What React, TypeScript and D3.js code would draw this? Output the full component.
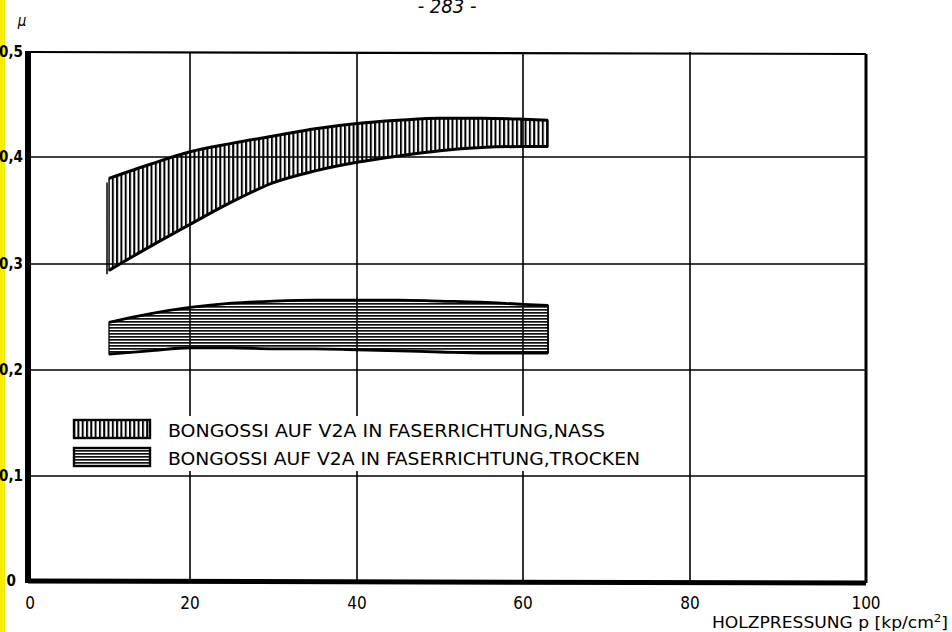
import * as d3 from 'd3';

// Reibwert μ über Holzpressung p, Bongossi auf V2A
const pressure = [10, 15, 20, 25, 30, 35, 40, 45, 50, 55, 60, 63];
const nassUpper = [0.38, 0.393, 0.405, 0.413, 0.42, 0.427, 0.432, 0.435, 0.437, 0.437, 0.436, 0.435];
const nassLower = [0.294, 0.316, 0.337, 0.358, 0.376, 0.387, 0.395, 0.401, 0.406, 0.409, 0.41, 0.41];
const trockenUpper = [0.245, 0.253, 0.259, 0.263, 0.265, 0.266, 0.266, 0.266, 0.265, 0.264, 0.262, 0.261];
const trockenLower = [0.215, 0.218, 0.221, 0.221, 0.22, 0.22, 0.219, 0.218, 0.217, 0.216, 0.216, 0.216];

const xTicks = [0, 20, 40, 60, 80, 100];
const yTicks = [0, 0.1, 0.2, 0.3, 0.4, 0.5];
const yTickLabels = ['0', '0,1', '0,2', '0,3', '0,4', '0,5'];
const legendLabels = [
  'BONGOSSI AUF V2A IN FASERRICHTUNG,NASS',
  'BONGOSSI AUF V2A IN FASERRICHTUNG,TROCKEN',
];

const font = "'DejaVu Sans Condensed', 'Liberation Sans Narrow', 'DejaVu Sans', sans-serif";

export default function App() {
  const width = 952;
  const height = 632;

  // scanned sheet: the grid is not perfectly even, so use a polylinear scale
  const x = d3.scaleLinear().domain(xTicks).range([28, 190, 357, 523, 690, 866]);
  const y = d3.scaleLinear().domain(yTicks).range([581, 476, 370, 264, 157, 52]);

  const rows = pressure.map((p, i) => ({
    p,
    nu: nassUpper[i],
    nl: nassLower[i],
    tu: trockenUpper[i],
    tl: trockenLower[i],
  }));
  type Row = (typeof rows)[number];

  const curve = d3.curveMonotoneX;
  const nassArea = d3.area<Row>().x((d) => x(d.p)).y0((d) => y(d.nl)).y1((d) => y(d.nu)).curve(curve);
  const trockenArea = d3.area<Row>().x((d) => x(d.p)).y0((d) => y(d.tl)).y1((d) => y(d.tu)).curve(curve);
  const line = (key: keyof Row) =>
    d3.line<Row>().x((d) => x(d.p)).y((d) => y(d[key] as number)).curve(curve)(rows) || '';

  const first = rows[0];
  const last = rows[rows.length - 1];

  return (
    <svg width={width} height={height} style={{ position: 'absolute', left: 0, top: 0, background: '#fff' }}>
      <defs>
        <pattern id="vhatch" width={4.3} height={10} patternUnits="userSpaceOnUse">
          <rect x={0} y={0} width={2} height={10} fill="#000" />
        </pattern>
        <pattern id="hhatch" width={10} height={3} patternUnits="userSpaceOnUse">
          <rect x={0} y={0} width={10} height={1.7} fill="#111" />
        </pattern>
      </defs>

      {/* scan edge */}
      <rect x={0} y={0} width={5} height={height} fill="#f4ee00" />

      {/* page number */}
      <text x={447} y={13} textAnchor="middle" fontFamily={font} fontSize={20} fontStyle="italic">
        - 283 -
      </text>

      {/* grid */}
      {xTicks.slice(1, -1).map((t) => (
        <line key={'gx' + t} x1={x(t)} x2={x(t)} y1={y(0.5)} y2={y(0)} stroke="#000" strokeWidth={1.6} />
      ))}
      {yTicks.slice(1, -1).map((t) => (
        <line key={'gy' + t} x1={x(0)} x2={x(100)} y1={y(t)} y2={y(t)} stroke="#000" strokeWidth={1.6} />
      ))}

      {/* bands */}
      <path d={nassArea(rows) || ''} fill="url(#vhatch)" stroke="#000" strokeWidth={1.3} />
      <path d={line('nu')} fill="none" stroke="#000" strokeWidth={3} />
      <path d={line('nl')} fill="none" stroke="#000" strokeWidth={3} />
      <line x1={x(first.p) - 2} x2={x(first.p) - 2} y1={y(first.nu) + 4} y2={y(first.nl) + 4} stroke="#000" strokeWidth={1.5} />

      <path d={trockenArea(rows) || ''} fill="url(#hhatch)" stroke="#000" strokeWidth={1.3} />
      <path d={line('tu')} fill="none" stroke="#000" strokeWidth={2.8} />
      <path d={line('tl')} fill="none" stroke="#000" strokeWidth={2.8} />
      <line x1={x(last.p)} x2={x(last.p)} y1={y(last.tu)} y2={y(last.tl)} stroke="#000" strokeWidth={1.5} />

      {/* frame */}
      <line x1={x(0)} x2={x(100)} y1={y(0.5)} y2={y(0.5) + 2} stroke="#000" strokeWidth={2.2} />
      <line x1={x(100)} x2={x(100)} y1={y(0.5) + 2} y2={y(0) + 2} stroke="#000" strokeWidth={3} />
      <line x1={x(0)} x2={x(100)} y1={y(0)} y2={y(0) + 2} stroke="#000" strokeWidth={5} />
      <line x1={x(0)} x2={x(0)} y1={y(0.5) - 1} y2={y(0) + 2} stroke="#000" strokeWidth={6} />

      {/* legend */}
      <rect x={62} y={416} width={600} height={55} fill="#fff" />
      {legendLabels.map((label, i) => {
        const top = 420 + i * 28;
        return (
          <g key={label}>
            <rect x={74} y={top} width={76} height={18} fill={i === 0 ? 'url(#vhatch)' : 'url(#hhatch)'} stroke="#000" strokeWidth={2.4} />
            <text
              x={168}
              y={top + 17}
              fontFamily={font}
              fontSize={17}
              textLength={i === 0 ? 437 : 472}
              lengthAdjust="spacingAndGlyphs"
            >
              {label}
            </text>
          </g>
        );
      })}

      {/* y axis labels */}
      {yTicks.map((t, i) => (
        <text key={'yl' + t} x={t === 0 ? 16 : 23} y={y(t) + 5} textAnchor="end" fontFamily={font} fontSize={15} fontWeight="bold">
          {yTickLabels[i]}
        </text>
      ))}
      <text x={22} y={26} textAnchor="middle" fontFamily={font} fontSize={15} fontStyle="italic">
        μ
      </text>

      {/* x axis labels */}
      {xTicks.map((t) => (
        <text key={'xl' + t} x={x(t) + (t === 0 ? 2 : 0)} y={609} textAnchor="middle" fontFamily={font} fontSize={17}>
          {t}
        </text>
      ))}
      <text x={712} y={628} fontFamily={font} fontSize={16} textLength={236} lengthAdjust="spacingAndGlyphs">
        HOLZPRESSUNG p [kp/cm
        <tspan dy={-6} fontSize={11}>2</tspan>
        <tspan dy={6}>]</tspan>
      </text>
    </svg>
  );
}
